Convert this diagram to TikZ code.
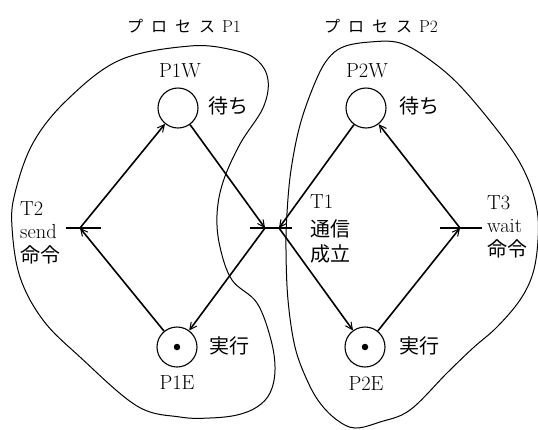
\documentclass[tikz,border=0pt]{standalone}
\usepackage{fontspec}
\newfontfamily\cjk{Noto Sans CJK JP}
\usetikzlibrary{arrows.meta}
\begin{document}
\begin{tikzpicture}[x=1pt,y=-1pt,
  place/.style={circle, draw, line width=1.1pt, minimum size=40pt, inner sep=0pt},
  token/.style={circle, fill, minimum size=6.5pt, inner sep=0pt},
  arc/.style={line width=1.6pt, -{Straight Barb[length=7pt,width=7pt,line width=1pt]}},
  tbar/.style={line width=1.4pt},
  region/.style={line width=1pt},
  lbl/.style={font=\fontsize{17.28}{20}\selectfont, inner sep=0pt, scale=1.18, transform shape},
  jlbl/.style={font=\fontsize{20}{22}\selectfont\cjk, inner sep=0pt},
  ttl/.style={font=\fontsize{17.28}{20}\selectfont, inner sep=0pt}
]
\useasboundingbox (0,0) rectangle (538,429);

% process regions
\draw[region] plot[smooth cycle, tension=0.6] coordinates {
 (190,46) (233,50) (257,60) (268,80) (263,108) (240,144) (223,182) (217,215)
 (220,247) (232,280) (257,303) (271,340) (275,370) (270,393) (257,407)
 (237,415) (210,418) (180,417) (137,406) (80,357) (43,320) (20,277)
 (12,227) (15,193) (33,143) (67,100) (120,60)};
\draw[region] plot[smooth cycle, tension=0.6] coordinates {
 (370,42) (400,43) (430,60) (463,89) (507,143) (527,177) (537,210) (538,240)
 (533,273) (520,300) (497,327) (473,348) (447,373) (410,410) (380,422)
 (355,428) (337,420) (320,403) (307,380) (295,347) (288,300) (286,250)
 (287,213) (291,170) (300,125) (314,85) (327,60) (343,47)};

% places
\node[place] (P1W) at (178,108) {};
\node[place] (P1E) at (177,347) {};
\node[place] (P2W) at (366,108) {};
\node[place] (P2E) at (365,347) {};
\node[token] (k1) at (P1E) {};
\node[token] (k2) at (P2E) {};

% transitions
\coordinate (T2) at (80,228);
\coordinate (T1a) at (265,228);
\coordinate (T1b) at (279,228);
\coordinate (T3) at (460,228);
\coordinate (T2l) at (66,228);
\coordinate (T2r) at (101,228);
\coordinate (T1l) at (250,228);
\coordinate (T1r) at (292,228);
\coordinate (T3l) at (440,228);
\coordinate (T3r) at (482,228);
\draw[tbar] (T2l) -- (T2r);
\draw[tbar] (T1l) -- (T1r);
\draw[tbar] (T3l) -- (T3r);

% arcs
\draw[arc] (T2) -- (P1W);
\draw[arc] (P1W) -- (T1a);
\draw[arc] (T1a) -- (P1E);
\draw[arc] (P1E) -- (T2);
\draw[arc] (P2W) -- (T1b);
\draw[arc] (T1b) -- (P2E);
\draw[arc] (P2E) -- (T3);
\draw[arc] (T3) -- (P2W);

% titles
\node[ttl] (ttl1) at (184,26) {{\fontsize{16}{18}\selectfont\cjk プ\hspace{8pt}ロ\hspace{8pt}セ\hspace{8pt}ス}\hspace{7pt}P1};
\node[ttl] (ttl2) at (381,26) {{\fontsize{16}{18}\selectfont\cjk プ\hspace{8pt}ロ\hspace{8pt}セ\hspace{8pt}ス}\hspace{7pt}P2};

% place labels
\node[lbl] (l1) at (180,71) {P1W};
\node[lbl] (l2) at (367,71) {P2W};
\node[lbl] (l3) at (177,383) {P1E};
\node[lbl] (l4) at (366,384) {P2E};
\node[jlbl] (j1) at (228,106) {待ち};
\node[jlbl] (j2) at (419,106) {待ち};
\node[jlbl] (j3) at (229,346) {実行};
\node[jlbl] (j4) at (419,346) {実行};

% transition labels
\node[lbl, anchor=west] (a1) at (20,209) {T2};
\node[lbl, anchor=west] (a2) at (20,232) {send};
\node[jlbl, anchor=west] (a3) at (20,255) {命令};
\node[lbl, anchor=west] (b1) at (310,202) {T1};
\node[jlbl, anchor=west] (b2) at (310,229) {通信};
\node[jlbl, anchor=west] (b3) at (310,254) {成立};
\node[lbl, anchor=west] (c1) at (487,203) {T3};
\node[lbl, anchor=west] (c2) at (487,226) {wait};
\node[jlbl, anchor=west] (c3) at (487,249) {命令};
\end{tikzpicture}
\end{document}
